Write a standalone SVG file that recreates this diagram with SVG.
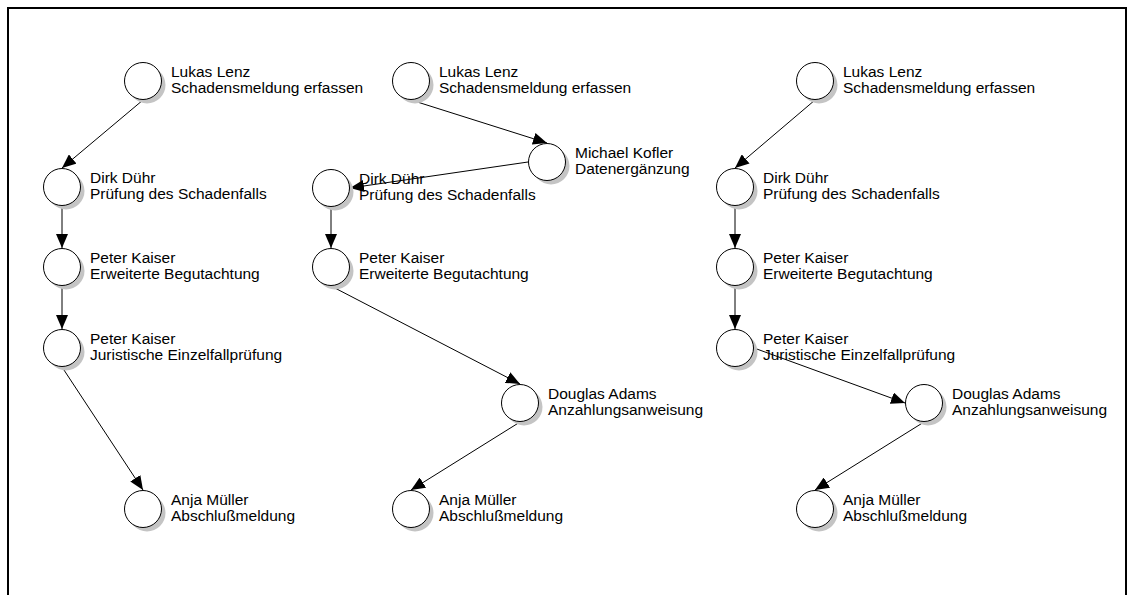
<svg xmlns="http://www.w3.org/2000/svg" width="1127" height="595" viewBox="0 0 1127 595">
  <style>
    .shadow { fill: #c4c4c4; stroke: none; }
    .node { fill: #ffffff; stroke: #000000; stroke-width: 1; }
    .label { font-family: "Liberation Sans", Arial, sans-serif; font-size: 15.5px; fill: #000000; }
    .edge { stroke: #000000; stroke-width: 1; fill: none; marker-end: url(#arrow); }
    .frame { stroke: #000000; stroke-width: 2; fill: none; }
  </style>
  <defs>
    <marker id="arrow" markerUnits="userSpaceOnUse" markerWidth="14" markerHeight="12" viewBox="0 0 14 12" refX="14" refY="6" orient="auto">
      <path d="M0,0 L14,6 L0,12 Z" fill="#000000"/>
    </marker>
    <g id="bubble">
      <circle class="shadow" cx="4" cy="4" r="18.5"/>
      <circle class="node" cx="0" cy="0" r="18.5"/>
    </g>
  </defs>

  <rect width="1127" height="595" fill="#ffffff"/>
  <path class="frame" d="M8,595 V8 H1126 V595"/>

  <!-- connectors -->
  <g id="connectors">
    <!-- first chain -->
    <line class="edge" x1="143" y1="100" x2="62" y2="168"/>
    <line class="edge" x1="62" y1="206" x2="62" y2="248"/>
    <line class="edge" x1="62" y1="286" x2="62" y2="329"/>
    <line class="edge" x1="62" y1="367" x2="143" y2="490"/>
    <!-- second chain -->
    <line class="edge" x1="411" y1="100" x2="547" y2="143"/>
    <line class="edge" x1="528" y1="162" x2="350" y2="188"/>
    <line class="edge" x1="331" y1="207" x2="331" y2="248"/>
    <line class="edge" x1="331" y1="286" x2="520" y2="384"/>
    <line class="edge" x1="520" y1="422" x2="411" y2="490"/>
    <!-- third chain -->
    <line class="edge" x1="815" y1="100" x2="735" y2="168"/>
    <line class="edge" x1="735" y1="206" x2="735" y2="248"/>
    <line class="edge" x1="735" y1="286" x2="735" y2="329"/>
    <line class="edge" x1="754" y1="348" x2="905" y2="403"/>
    <line class="edge" x1="924" y1="422" x2="815" y2="490"/>
  </g>

  <!-- first chain nodes -->
  <g id="a-lenz" transform="translate(143,81)">
    <use href="#bubble"/>
    <text class="label" x="28" y="-4">Lukas Lenz</text>
    <text class="label" x="28" y="12">Schadensmeldung erfassen</text>
  </g>
  <g id="a-duehr" transform="translate(62,187)">
    <use href="#bubble"/>
    <text class="label" x="28" y="-4">Dirk Dühr</text>
    <text class="label" x="28" y="12">Prüfung des Schadenfalls</text>
  </g>
  <g id="a-kaiser-1" transform="translate(62,267)">
    <use href="#bubble"/>
    <text class="label" x="28" y="-4">Peter Kaiser</text>
    <text class="label" x="28" y="12">Erweiterte Begutachtung</text>
  </g>
  <g id="a-kaiser-2" transform="translate(62,348)">
    <use href="#bubble"/>
    <text class="label" x="28" y="-4">Peter Kaiser</text>
    <text class="label" x="28" y="12">Juristische Einzelfallprüfung</text>
  </g>
  <g id="a-mueller" transform="translate(143,509)">
    <use href="#bubble"/>
    <text class="label" x="28" y="-4">Anja Müller</text>
    <text class="label" x="28" y="12">Abschlußmeldung</text>
  </g>

  <!-- second chain nodes -->
  <g id="b-lenz" transform="translate(411,81)">
    <use href="#bubble"/>
    <text class="label" x="28" y="-4">Lukas Lenz</text>
    <text class="label" x="28" y="12">Schadensmeldung erfassen</text>
  </g>
  <g id="b-kofler" transform="translate(547,162)">
    <use href="#bubble"/>
    <text class="label" x="28" y="-4">Michael Kofler</text>
    <text class="label" x="28" y="12">Datenergänzung</text>
  </g>
  <g id="b-duehr" transform="translate(331,188)">
    <use href="#bubble"/>
    <text class="label" x="28" y="-4">Dirk Dühr</text>
    <text class="label" x="28" y="12">Prüfung des Schadenfalls</text>
  </g>
  <g id="b-kaiser" transform="translate(331,267)">
    <use href="#bubble"/>
    <text class="label" x="28" y="-4">Peter Kaiser</text>
    <text class="label" x="28" y="12">Erweiterte Begutachtung</text>
  </g>
  <g id="b-adams" transform="translate(520,403)">
    <use href="#bubble"/>
    <text class="label" x="28" y="-4">Douglas Adams</text>
    <text class="label" x="28" y="12">Anzahlungsanweisung</text>
  </g>
  <g id="b-mueller" transform="translate(411,509)">
    <use href="#bubble"/>
    <text class="label" x="28" y="-4">Anja Müller</text>
    <text class="label" x="28" y="12">Abschlußmeldung</text>
  </g>

  <!-- third chain nodes -->
  <g id="c-lenz" transform="translate(815,81)">
    <use href="#bubble"/>
    <text class="label" x="28" y="-4">Lukas Lenz</text>
    <text class="label" x="28" y="12">Schadensmeldung erfassen</text>
  </g>
  <g id="c-duehr" transform="translate(735,187)">
    <use href="#bubble"/>
    <text class="label" x="28" y="-4">Dirk Dühr</text>
    <text class="label" x="28" y="12">Prüfung des Schadenfalls</text>
  </g>
  <g id="c-kaiser-1" transform="translate(735,267)">
    <use href="#bubble"/>
    <text class="label" x="28" y="-4">Peter Kaiser</text>
    <text class="label" x="28" y="12">Erweiterte Begutachtung</text>
  </g>
  <g id="c-kaiser-2" transform="translate(735,348)">
    <use href="#bubble"/>
    <text class="label" x="28" y="-4">Peter Kaiser</text>
    <text class="label" x="28" y="12">Juristische Einzelfallprüfung</text>
  </g>
  <g id="c-adams" transform="translate(924,403)">
    <use href="#bubble"/>
    <text class="label" x="28" y="-4">Douglas Adams</text>
    <text class="label" x="28" y="12">Anzahlungsanweisung</text>
  </g>
  <g id="c-mueller" transform="translate(815,509)">
    <use href="#bubble"/>
    <text class="label" x="28" y="-4">Anja Müller</text>
    <text class="label" x="28" y="12">Abschlußmeldung</text>
  </g>
</svg>
